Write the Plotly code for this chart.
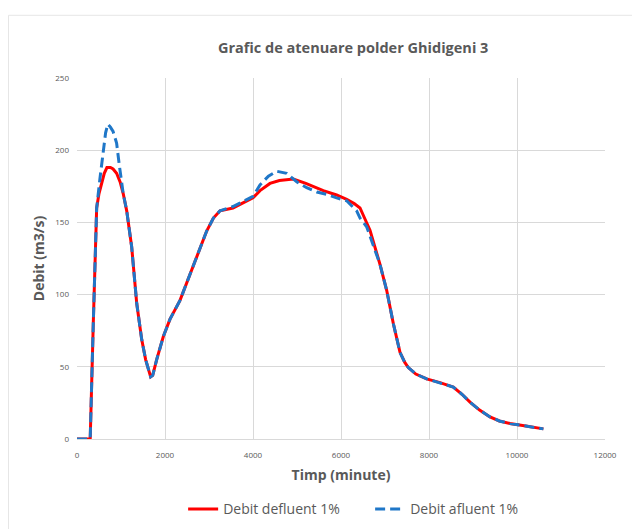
import plotly.graph_objects as go

# Debit defluent 1% (red)
t_def = [0, 300, 370, 447, 500, 560, 620, 680, 760, 820, 900, 980, 1050, 1130, 1243,
         1357, 1470, 1560, 1620, 1674, 1720, 1811, 1962, 2114, 2341, 2493, 2720, 2947,
         3100, 3250, 3545, 3856, 4000, 4159, 4386, 4600, 4916, 5200, 5598, 5900, 6129,
         6300, 6432, 6550, 6659, 6886, 7038, 7189, 7341, 7450, 7530, 7700, 7947, 8250,
         8552, 8750, 8932, 9150, 9386, 9600, 9841, 10200, 10600]
q_def = [0, 0, 80, 160, 170, 178, 184, 188, 188, 187, 184, 178, 170, 158, 133,
         94, 69, 55, 48, 43, 44, 55, 71, 83, 96, 108, 126, 144,
         153, 158, 160, 165, 167, 172, 177, 179, 180, 177, 172, 169, 166,
         163, 160, 152, 144.5, 121, 103, 80, 60, 53, 49.5, 45, 41.6, 39,
         36, 31, 25.5, 20, 15.3, 12.5, 10.7, 9, 7]

# Debit afluent 1% (blue, dashed)
t_af = [0, 300, 370, 447, 520, 600, 650, 700, 760, 820, 900, 960, 1000, 1050, 1130, 1243,
        1357, 1470, 1560, 1620, 1674, 1720, 1811, 1962, 2114, 2341, 2493, 2720, 2947,
        3100, 3250, 3545, 3856, 4000, 4159, 4350, 4538, 4765, 5000, 5220, 5450, 5675,
        5900, 6129, 6356, 6432, 6583, 6811, 6886, 7038, 7189, 7341, 7450, 7530, 7700,
        7947, 8250, 8552, 8750, 8932, 9150, 9386, 9600, 9841, 10200, 10600]
q_af = [0, 0, 80, 160, 180, 200, 212, 218, 216, 213, 205, 190, 180, 170, 158, 133,
        94, 69, 55, 48, 43, 44, 55, 71, 83, 96, 108, 126, 144,
        153, 158, 161, 166, 168, 176, 182, 185.4, 184, 178, 174, 171, 169.4,
        167, 165, 158, 153, 147, 128, 121, 103, 80, 60, 53, 49.5, 45,
        41.6, 39, 36, 31, 25.5, 20, 15.3, 12.5, 10.7, 9, 7]

x_ticks = [0, 2000, 4000, 6000, 8000, 10000, 12000]
y_ticks = [0, 50, 100, 150, 200, 250]

grey = '#595959'
grid = '#d9d9d9'

fig = go.Figure()
fig.add_trace(go.Scatter(x=t_def, y=q_def, mode='lines', name='Debit defluent 1%',
                         line=dict(color='#ff0000', width=3)))
fig.add_trace(go.Scatter(x=t_af, y=q_af, mode='lines', name='Debit afluent 1%',
                         line=dict(color='#1f77c8', width=3, dash='10px,5px')))

# page body adds 8px, so margins are 8px smaller than the picture positions
fig.update_layout(
    width=640, height=529,
    margin=dict(l=69, r=43, t=70, b=79),
    paper_bgcolor='white', plot_bgcolor='white',
    font=dict(family='Open Sans, Liberation Sans, sans-serif', color=grey),
    title=dict(text='<b>Grafic de atenuare polder Ghidigeni 3</b>', x=0.523, xref='paper',
               xanchor='center', y=1 - 40 / 529, yanchor='middle',
               font=dict(size=14.5, color=grey)),
    showlegend=True,
    legend=dict(orientation='h', x=0.201, xanchor='left', y=-0.195, yanchor='middle',
                itemwidth=30, entrywidth=142,
                font=dict(size=14, color=grey)),
    shapes=[dict(type='rect', xref='paper', yref='paper',
                 x0=(0.5 - 69) / 528, x1=1.2, y0=-0.4, y1=(450 - 4) / 380,
                 line=dict(color='#e6e6e6', width=1), layer='below')],
)
fig.update_xaxes(range=[0, 12000], tickvals=x_ticks, tickformat='d', automargin=False,
                 showgrid=True, gridcolor=grid, gridwidth=1, zeroline=False,
                 showline=True, linecolor=grid, ticks='', ticklabelstandoff=8,
                 tickfont=dict(size=8, color=grey),
                 title=dict(text='<b>Timp (minute)</b>', font=dict(size=14, color=grey), standoff=11))
fig.update_yaxes(range=[0, 250], tickvals=y_ticks, automargin=False,
                 showgrid=True, gridcolor=grid, gridwidth=1, zeroline=False,
                 showline=False, ticks='', ticklabelstandoff=7,
                 tickfont=dict(size=8, color=grey),
                 title=dict(text='<b>Debit (m3/s)</b>', font=dict(size=14, color=grey), standoff=7))

fig.write_html("out.html")
